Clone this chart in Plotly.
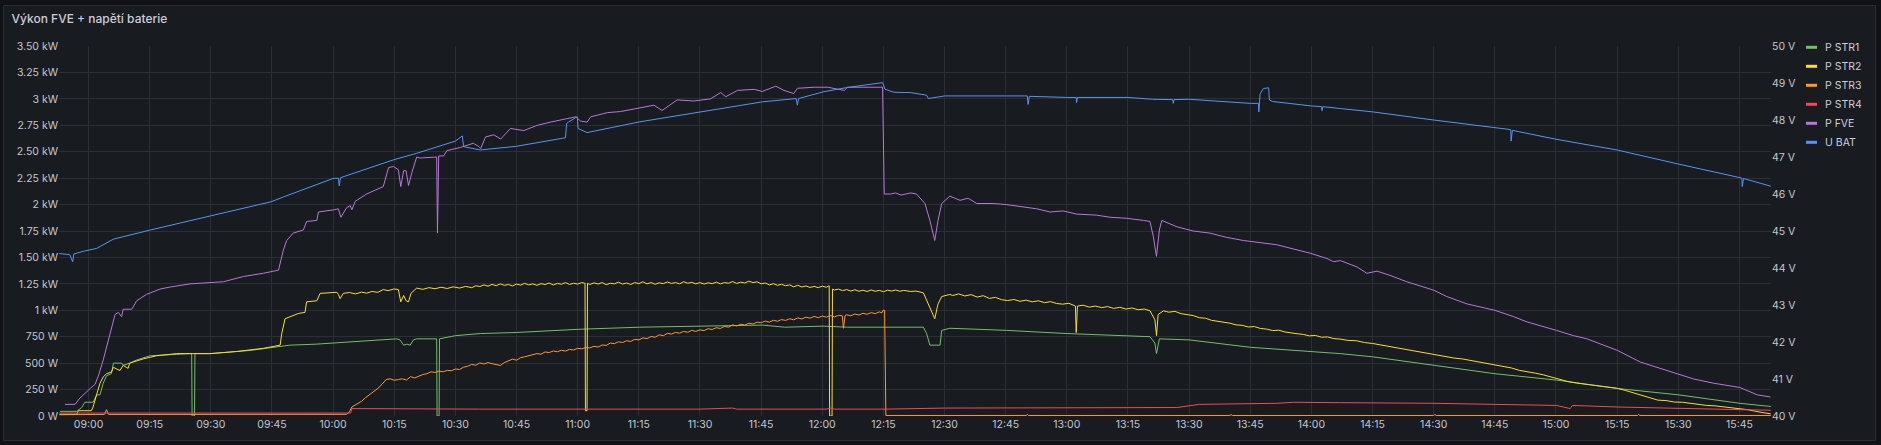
import pandas as pd
import plotly.graph_objects as go

# ---------------- data (time = minutes after 09:00) ----------------
T0 = pd.Timestamp("2024-06-01 09:00")

t_str1 = [-7.0, -2.9, -1.7, -0.9, 1.1, 2.0, 2.8, 3.6, 4.4, 5.6, 6.1, 8.1, 8.5, 10.1, 11.8, 15.1, 24.9, 25.3,
          25.4, 26.0, 26.1, 29.8, 39.6, 47.0, 49.4, 56.0, 64.2, 72.3, 75.6, 76.4, 77.3, 78.1, 78.9, 79.7,
          80.5, 85.4, 85.5, 86.0, 86.1, 90.0, 96.1, 105.0, 120.1, 135.2, 150.2, 157.5, 165.3, 170.8, 180.2,
          186.2, 195.2, 201.7, 204.8, 205.6, 206.4, 208.9, 209.3, 211.3, 225.2, 240.0, 254.7, 260.4, 261.6,
          262.0, 262.7, 267.0, 270.0, 285.0, 300.0, 307.1, 315.0, 330.0, 345.0, 360.1, 375.1, 390.1, 405.1, 412.7]
p_str1 = [44, 44, 80, 130, 130, 200, 200, 310, 380, 400, 500, 500, 480, 500, 530, 570, 590, 590,
          0, 0, 590, 590, 620, 660, 670, 680, 700, 720, 730, 720, 670, 680, 670, 720,
          730, 730, 0, 0, 730, 760, 780, 790, 820, 840, 850, 860, 860, 840, 850,
          840, 840, 840, 840, 780, 670, 670, 810, 830, 810, 780, 760, 750, 690,
          590, 730, 720, 720, 650, 610, 590, 560, 480, 400, 340, 260, 200, 120, 90]

# P STR2 as (minute, W) pairs
str2_points = [
    (-7.0, 16), (-2.9, 16), (-2.5, 50), (0.7, 50), (1.1, 85), (2.0, 210), (2.8, 310), (3.6, 370), (4.4, 400),
    (5.6, 415), (6.1, 460), (7.7, 430), (8.5, 480), (9.7, 450), (10.1, 500), (13.4, 540), (16.7, 570),
    (21.6, 590), (29.8, 590), (36.3, 610), (42.9, 640), (47.0, 670), (47.4, 780), (48.2, 920), (49.4, 940),
    (51.5, 970), (53.1, 980), (53.5, 1080), (56.0, 1090), (56.8, 1160), (60.9, 1170), (61.3, 1150),
    (61.7, 1110), (62.5, 1160), (64.0, 1168), (65.5, 1155), (67.0, 1172), (68.2, 1162), (69.5, 1178),
    (71.0, 1170), (72.3, 1196), (73.5, 1186), (75.0, 1202), (76.0, 1196), (76.6, 1080), (77.3, 1140),
    (77.9, 1090), (78.5, 1080), (79.1, 1160), (80.5, 1210), (82.0, 1198), (83.5, 1214), (85.0, 1204),
    (86.5, 1218), (88.0, 1206), (89.5, 1222), (91.0, 1210), (92.5, 1226), (94.0, 1214), (95.0, 1232),
    (96, 1225), (97, 1240), (98, 1228), (99, 1245), (100, 1232), (101, 1250), (102, 1236), (103, 1244),
    (104, 1230), (105, 1248), (106, 1238), (107, 1255), (108, 1240), (109, 1250), (110, 1236), (111, 1252),
    (112, 1244), (113, 1258), (114, 1240), (115, 1254), (116, 1246), (117, 1262), (118, 1244), (119, 1256),
    (120, 1248), (121, 1262), (121.8, 1255), (121.9, 50), (122.3, 50), (122.4, 1255), (123, 1244),
    (124, 1260), (125, 1248), (126, 1262), (127, 1242), (128, 1256), (129, 1250), (130, 1266), (131, 1248),
    (132, 1258), (133, 1244), (134, 1262), (135, 1252), (136, 1270), (137, 1250), (138, 1262), (139, 1246),
    (140, 1260), (141, 1252), (142, 1268), (143, 1254), (144, 1262), (145, 1250), (146, 1270), (147, 1256),
    (148, 1264), (149, 1250), (150, 1262), (151, 1248), (152, 1260), (153, 1252), (154, 1266), (155, 1250),
    (156, 1262), (157, 1256), (158, 1272), (159, 1254), (160, 1266), (161, 1258), (162, 1276), (163, 1262),
    (164, 1270), (165, 1250), (166, 1258), (167, 1240), (168, 1252), (169, 1236), (170, 1246), (171, 1232),
    (172, 1240), (173, 1222), (174, 1236), (175, 1220), (176, 1230), (177, 1216), (178, 1226), (179, 1214),
    (180, 1228), (181, 1218), (181.7, 1232), (181.8, 0), (182.4, 0), (182.5, 1200), (183, 1192),
    (184, 1200), (185, 1186), (186, 1196), (187, 1182), (188, 1194), (189, 1180), (190, 1190), (191, 1178),
    (192, 1192), (193, 1180), (194, 1188), (195, 1176), (196, 1190), (197, 1182), (198, 1192), (199, 1180),
    (200, 1188), (201.7, 1178), (203.0, 1182), (204.8, 1165), (206.0, 1060), (207.6, 920), (208.4, 1060),
    (209.3, 1130), (211.3, 1150), (212.0, 1140), (213.5, 1155), (215.0, 1135), (216.5, 1148), (218.0, 1125),
    (219.5, 1138), (221.0, 1112), (222.5, 1122), (224.0, 1100), (225.5, 1092), (227.0, 1102), (228.5, 1085),
    (230.0, 1096), (231.5, 1080), (233.0, 1090), (234.5, 1072), (236.0, 1082), (237.5, 1064), (239.0, 1058),
    (240.5, 1066), (242.1, 1040), (242.3, 790), (242.6, 1040), (244.0, 1048), (245.5, 1030), (247.0, 1040),
    (248.5, 1025), (250.0, 1035), (251.5, 1018), (253.0, 1028), (254.5, 1012), (256.0, 1022), (257.5, 1005),
    (259.0, 1012), (260.4, 995), (261.6, 910), (262.0, 760), (262.4, 960), (263.7, 995), (265.0, 982),
    (266.5, 990), (268.0, 968), (269.5, 958), (271.0, 950), (272.5, 930), (274.0, 925), (275.5, 905),
    (277.0, 898), (278.5, 885), (280.0, 878), (281.5, 862), (283.0, 858), (284.5, 842), (286.0, 846),
    (287.5, 828), (289.0, 822), (290.5, 808), (292.0, 812), (293.5, 795), (295.0, 790), (296.5, 778),
    (298.0, 772), (299.5, 758), (301.0, 762), (302.5, 745), (304.0, 748), (305.5, 732), (307.0, 728),
    (309.0, 715), (311.0, 712), (313.0, 695), (315.0, 686), (317.0, 672), (319.0, 662), (321.0, 648),
    (323.0, 630), (325.0, 618), (327.0, 600), (329.0, 585), (331.0, 572), (333.0, 562), (335.0, 548),
    (337.0, 540), (339.0, 526), (341.0, 515), (343.0, 500), (345.0, 482), (347.0, 470), (349.0, 455),
    (351.0, 432), (353.0, 422), (355.0, 405), (357.0, 388), (359.0, 365), (361.0, 345), (363.0, 325),
    (365.0, 312), (367.0, 302), (369.0, 290), (371.0, 282), (373.0, 270), (375.0, 262), (377.0, 242),
    (379.0, 220), (381.0, 198), (383.0, 170), (385.0, 150), (387.0, 146), (389.0, 132), (391.0, 130),
    (393.0, 118), (395.0, 112), (397.0, 100), (399.0, 96), (401.0, 88), (403.0, 80), (405.0, 70),
    (407.0, 60), (409.0, 44), (411.0, 30), (412.7, 20),
]

# P STR3 as (minute, W) pairs
str3_points = [
    (-7.2, 12), (3.9, 15), (4.4, 60), (4.9, 15), (63.3, 16), (64.0, 40), (64.6, 85), (65, 95), (66, 120),
    (67, 140), (68, 175), (69, 205), (70, 230), (71, 262), (72, 300), (72.7, 340), (73, 345), (74, 352),
    (75, 338), (76, 345), (77, 352), (78, 340), (79, 372), (80, 360), (81, 378), (82, 392), (83, 400),
    (84, 418), (85, 412), (86, 425), (87, 418), (88, 432), (89, 428), (90, 445), (91, 440), (92, 462),
    (93, 470), (94, 488), (95, 480), (96, 502), (97, 492), (98, 505), (99, 495), (100, 488), (101, 478),
    (102, 505), (103, 520), (104, 538), (105, 528), (106, 552), (107, 560), (108, 568), (109, 575),
    (110, 590), (111, 585), (112, 606), (113, 600), (114, 615), (115, 608), (116, 622), (117, 614),
    (118, 630), (119, 624), (120, 640), (121, 635), (122, 648), (123, 644), (124, 660), (125, 652),
    (126, 672), (127, 668), (128, 690), (129, 684), (130, 702), (131, 695), (132, 712), (133, 705),
    (134, 725), (135, 720), (136, 738), (137, 732), (138, 752), (139, 745), (140, 768), (141, 760),
    (142, 782), (143, 775), (144, 790), (145, 784), (146, 800), (147, 792), (148, 810), (149, 800),
    (150, 815), (151, 808), (152, 826), (153, 818), (154, 835), (155, 828), (156, 848), (157, 840),
    (158, 862), (159, 852), (160, 868), (161, 860), (162, 878), (163, 870), (164, 888), (165, 882),
    (166, 898), (167, 888), (168, 905), (169, 896), (170, 912), (171, 904), (172, 920), (173, 910),
    (174, 928), (175, 918), (176, 935), (177, 925), (178, 942), (179, 930), (180, 945), (181, 935),
    (182, 950), (183, 938), (184, 952), (184.9, 948), (185.2, 830), (185.6, 950), (186, 958), (187, 948),
    (188, 965), (189, 955), (190, 972), (191, 962), (192, 978), (193, 968), (194, 985), (194.6, 975),
    (194.9, 1000), (195.3, 1000), (195.6, 5), (230.0, 5), (230.3, 15), (230.6, 5), (280.0, 5),
    (280.3, 14), (280.6, 5), (330.0, 5), (330.3, 15), (330.6, 5), (380.0, 5), (380.3, 15), (380.6, 5),
    (412.7, 5),
]

t_str4 = [-7.2, 64.3, 64.6, 96.0, 150.0, 158.0, 159.0, 181.0, 182.0, 183.0, 195.6, 201.7, 210.0, 267.0,
          272.5, 291.5, 295.6, 307.1, 315.0, 330.0, 345.0, 360.1, 363.5, 364.0, 375.1, 390.1, 405.1, 412.7]
p_str4 = [28, 28, 70, 65, 65, 75, 65, 65, 75, 65, 65, 70, 75, 80,
          110, 120, 130, 126, 125, 120, 110, 100, 70, 100, 85, 70, 60, 55]

t_fve = [-5.8, -3.3, -2.1, -0.6, 0.4, 1.6, 2.5, 3.6, 5.2, 6.5, 7.3, 8.1, 8.5, 10.6, 11.8, 14.2, 17.5, 20.0,
         24.9, 29.8, 33.1, 38.0, 42.9, 46.6, 47.8, 48.6, 50.2, 52.7, 53.5, 56.0, 56.4, 60.1, 61.3, 61.9,
         63.3, 64.2, 64.6, 65.4, 68.2, 72.3, 73.6, 74.8, 76.0, 76.6, 77.3, 77.9, 78.5, 79.3, 80.5, 81.3,
         85.4, 85.6, 85.9, 87.1, 87.9, 91.2, 94.4, 95.7, 96.2, 97.4, 99.4, 101.1, 103.5, 106.8, 110.1,
         113.3, 117.0, 119.5, 120.7, 122.3, 123.2, 127.3, 130.5, 134.6, 138.7, 140.7, 144.4, 148.5, 152.6,
         155.1, 156.3, 159.2, 163.3, 165.3, 168.6, 170.6, 173.0, 173.9, 178.0, 181.3, 185.4, 186.2, 190.3,
         194.8, 195.2, 196.8, 198.0, 199.3, 201.7, 203.1, 205.2, 206.4, 207.6, 208.4, 209.3, 211.3, 213.8,
         215.8, 217.9, 221.9, 225.2, 228.5, 232.6, 235.9, 239.1, 242.4, 247.3, 250.6, 254.7, 258.8, 260.4,
         261.2, 262.0, 262.7, 263.3, 267.0, 271.0, 275.1, 279.2, 283.3, 287.4, 291.5, 295.6, 299.7, 303.8,
         305.4, 307.1, 311.2, 313.6, 316.1, 319.3, 323.4, 330.0, 333.2, 338.2, 345.0, 349.6, 352.9, 360.1,
         364.3, 367.6, 371.7, 375.1, 380.7, 385.6, 390.1, 393.8, 398.7, 405.1, 409.4, 412.6]
p_fve = [110, 110, 170, 230, 260, 300, 390, 530, 780, 960, 980, 940, 1010, 1010, 1090, 1150, 1200, 1220,
         1250, 1260, 1270, 1320, 1350, 1380, 1570, 1660, 1730, 1760, 1840, 1850, 1930, 1950, 1960, 1880,
         1970, 1990, 1950, 2030, 2100, 2170, 2350, 2360, 2330, 2170, 2320, 2320, 2180, 2300, 2450, 2440,
         2450, 1730, 2460, 2460, 2510, 2540, 2580, 2550, 2530, 2640, 2660, 2620, 2720, 2700, 2750,
         2780, 2810, 2830, 2790, 2780, 2830, 2870, 2880, 2910, 2940, 2890, 2990, 2980, 3000,
         3060, 3020, 3080, 3090, 3070, 3120, 3080, 3050, 3100, 3110, 3110, 3080, 3110, 3110,
         3110, 2100, 2100, 2110, 2090, 2110, 2100, 2010, 1850, 1660, 1850, 2010, 2080, 2040,
         2060, 2010, 2010, 2000, 1980, 1960, 1930, 1940, 1910, 1900, 1880, 1870, 1850, 1840,
         1700, 1510, 1760, 1850, 1790, 1750, 1730, 1690, 1660, 1640, 1620, 1580, 1540, 1490,
         1460, 1470, 1410, 1350, 1370, 1330, 1270, 1190, 1130, 1060, 1000, 940, 890, 810,
         760, 730, 670, 620, 510, 450, 400, 350, 310, 270, 200, 180]

t_ubat = [-7.2, -4.6, -3.9, -3.6, -1.3, 2.0, 6.1, 14.9, 30.0, 44.8, 47.8, 60.0, 61.3, 61.5, 61.8, 75.0, 80.5,
          90.0, 91.7, 92.0, 96.1, 105.0, 117.0, 117.3, 117.8, 119.9, 120.1, 122.3, 135.2, 150.2, 165.3,
          173.6, 173.9, 174.2, 180.2, 186.2, 194.8, 195.4, 197.6, 201.7, 205.6, 206.0, 210.0, 225.0, 230.3,
          230.5, 230.8, 240.0, 242.3, 242.4, 242.6, 255.0, 261.0, 266.0, 266.1, 266.3, 270.0, 285.0, 287.0,
          287.1, 287.4, 288.2, 289.5, 289.7, 290.5, 300.0, 302.5, 302.6, 302.8, 307.1, 315.0, 330.0, 345.0,
          348.9, 349.0, 349.3, 360.0, 375.0, 390.0, 405.0, 405.6, 405.7, 406.0, 412.7]
v_ubat = [44.39, 44.36, 44.17, 44.38, 44.45, 44.53, 44.78, 45.02, 45.41, 45.79, 45.92, 46.42, 46.43, 46.22, 46.44,
          46.93, 47.10, 47.43, 47.57, 47.28, 47.19, 47.29, 47.52, 47.91, 47.95, 48.09, 47.77, 47.66, 47.95,
          48.22, 48.49, 48.58, 48.40, 48.58, 48.76, 48.88, 49.01, 48.83, 48.75, 48.74, 48.67, 48.58, 48.65,
          48.65, 48.65, 48.42, 48.64, 48.61, 48.61, 48.47, 48.61, 48.61, 48.56, 48.55, 48.45, 48.55, 48.56,
          48.45, 48.45, 48.22, 48.70, 48.85, 48.87, 48.54, 48.50, 48.38, 48.36, 48.25, 48.36, 48.31, 48.22,
          48.00, 47.80, 47.74, 47.43, 47.72, 47.48, 47.19, 46.81, 46.45, 46.43, 46.20, 46.42, 46.21]

names = ["P STR1", "P STR2", "P STR3", "P STR4", "P FVE", "U BAT"]
colors = ["#73BF69", "#FADE2A", "#FF9830", "#F2495C", "#B877D9", "#5794F2"]

w_ticks = [0, 250, 500, 750, 1000, 1250, 1500, 1750, 2000, 2250, 2500, 2750, 3000, 3250, 3500]
w_labels = ["0 W", "250 W", "500 W", "750 W", "1 kW", "1.25 kW", "1.50 kW", "1.75 kW", "2 kW",
            "2.25 kW", "2.50 kW", "2.75 kW", "3 kW", "3.25 kW", "3.50 kW"]
v_ticks = [40, 41, 42, 43, 44, 45, 46, 47, 48, 49, 50]
v_labels = ["40 V", "41 V", "42 V", "43 V", "44 V", "45 V", "46 V", "47 V", "48 V", "49 V", "50 V"]

title_text = "Výkon FVE + napětí baterie"


def tx(ts):
    return [T0 + pd.Timedelta(minutes=m) for m in ts]


t_str2 = [p[0] for p in str2_points]
p_str2 = [p[1] for p in str2_points]
t_str3 = [p[0] for p in str3_points]
p_str3 = [p[1] for p in str3_points]

# ---------------- figure ----------------
W, H = 1881, 445
ML, MR, MT, MB = 59, 110, 46, 29
PW, PH = W - ML - MR, H - MT - MB

def px_x(x):
    return (x - ML) / PW

def px_y(y):
    return (H - MB - y) / PH

fig = go.Figure()
series = [(t_str1, p_str1, "y"), (t_str2, p_str2, "y"), (t_str3, p_str3, "y"),
          (t_str4, p_str4, "y"), (t_fve, p_fve, "y"), (t_ubat, v_ubat, "y2")]
for (ts, vs, ax), name, col in zip(series, names, colors):
    fig.add_trace(go.Scatter(x=tx(ts), y=vs, name=name, mode="lines", yaxis=ax,
                             line=dict(color=col, width=1), showlegend=False))

grid = "#2b2e34"
tick_font = dict(family="Inter, Roboto, sans-serif", size=10.5, color="#c5c7cf")

shapes = [dict(type="rect", xref="paper", yref="paper",
               x0=px_x(3.5), x1=px_x(1875.5), y0=px_y(440.5), y1=px_y(5.5),
               fillcolor="#181b1f", line=dict(color="#2a2d33", width=1), layer="below")]
annotations = []
for i, (name, col) in enumerate(zip(names, colors)):
    yc = 47.3 + 19 * i
    shapes.append(dict(type="rect", xref="paper", yref="paper",
                       x0=px_x(1806), x1=px_x(1817), y0=px_y(yc + 1.5), y1=px_y(yc - 1.5),
                       fillcolor=col, line=dict(width=0), layer="above"))
    annotations.append(dict(text=name, xref="paper", yref="paper", x=px_x(1823), y=px_y(yc),
                            xanchor="left", yanchor="middle", showarrow=False,
                            font=dict(family="Inter, Roboto, sans-serif", size=10.5, color="#ccccdc")))

fig.update_layout(
    width=W, height=H,
    margin=dict(l=ML, r=MR, t=MT, b=MB, pad=0),
    paper_bgcolor="#111217",
    plot_bgcolor="rgba(0,0,0,0)",
    title=dict(text=title_text, x=11.5 / W, xref="container", xanchor="left",
               y=1 - 19 / H, yref="container", yanchor="middle",
               font=dict(family="Inter, Roboto, sans-serif", size=12, color="#ccccdc", weight=500)),
    xaxis=dict(type="date",
               range=[T0 - pd.Timedelta(minutes=7.25), T0 + pd.Timedelta(minutes=412.75)],
               tick0=T0, dtick=15 * 60 * 1000, tickformat="%H:%M",
               showgrid=True, gridcolor=grid, gridwidth=1, zeroline=False, showline=False,
               ticks="", tickfont=tick_font),
    yaxis=dict(range=[0, 3500], tickvals=w_ticks, ticktext=w_labels, showgrid=True,
               gridcolor=grid, gridwidth=1, zeroline=False, showline=False, ticks="",
               tickfont=tick_font),
    yaxis2=dict(range=[40, 50], tickvals=v_ticks, ticktext=v_labels, overlaying="y", side="right",
                showgrid=False, zeroline=False, showline=False, ticks="", tickfont=tick_font),
    shapes=shapes,
    annotations=annotations,
    showlegend=False,
)

fig.write_html("out.html", config={"displayModeBar": False},
               post_script="document.body.style.margin='0';document.body.style.overflow='hidden';")
